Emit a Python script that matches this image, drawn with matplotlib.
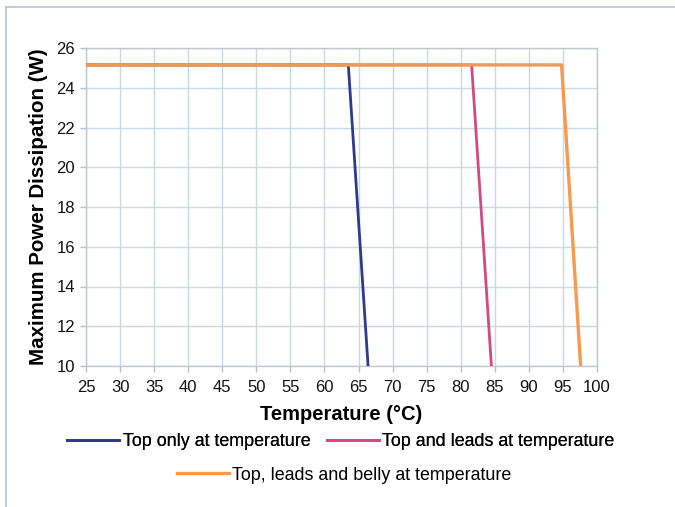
import matplotlib
matplotlib.use("Agg")
import matplotlib.pyplot as plt
from matplotlib.lines import Line2D

plt.rcParams['font.family'] = ['Liberation Sans', 'DejaVu Sans']

# Data (temperature in °C, power in W)
top_only_x = [25, 63.5, 66.4]
top_only_y = [25.15, 25.15, 10]
top_leads_x = [25, 81.6, 84.5]
top_leads_y = [25.15, 25.15, 10]
top_leads_belly_x = [25, 94.8, 97.6]
top_leads_belly_y = [25.15, 25.15, 10]

series_names = ["Top only at temperature",
                "Top and leads at temperature",
                "Top, leads and belly at temperature"]
colors = ["#2E3A8E", "#D24A80", "#F7994E"]

x_ticks = list(range(25, 101, 5))
y_ticks = list(range(10, 27, 2))

fig = plt.figure(figsize=(6.75, 5.07), dpi=100)
ax = fig.add_axes([86/675, 1-366/507, (597-86)/675, (366-48)/507])

grid_c = "#C9D9E1"
ax.set_xlim(25, 100)
ax.set_ylim(10, 26)
ax.set_xticks(x_ticks)
ax.set_yticks(y_ticks)
ax.grid(True, color=grid_c, linewidth=1.0)
ax.set_axisbelow(True)
for s in ax.spines.values():
    s.set_color("#C0C8CC")
    s.set_linewidth(1.0)
ax.tick_params(axis='both', colors="#B8C0C4", length=4, width=1,
               labelsize=12, labelcolor="#111111")
ax.tick_params(axis='x', pad=6)
ax.tick_params(axis='y', pad=4)

l1, = ax.plot(top_only_x, top_only_y, color=colors[0], lw=2.0, zorder=3)
l2, = ax.plot(top_leads_x, top_leads_y, color=colors[1], lw=2.0, zorder=3)
l3, = ax.plot(top_leads_belly_x, top_leads_belly_y, color=colors[2], lw=2.4, zorder=4)

ax.set_xlabel("Temperature (°C)", fontsize=14.5, fontweight='bold', labelpad=7)
ax.set_ylabel("Maximum Power Dissipation (W)", fontsize=14.8, fontweight='bold', labelpad=6)

leg1 = fig.legend([l1, l2], series_names[:2], loc='center',
                  bbox_to_anchor=(341/675, 1-442/507), ncol=2, frameon=False,
                  fontsize=12.9, handlelength=2.9, handletextpad=0.2,
                  columnspacing=0.9, borderpad=0)
leg2 = fig.legend([l3], series_names[2:], loc='center',
                  bbox_to_anchor=(344/675, 1-475/507), ncol=1, frameon=False,
                  fontsize=12.9, handlelength=2.9, handletextpad=0.2, borderpad=0)
fig.add_artist(leg1)

border_c = "#A9C6D8"
fig.add_artist(Line2D([6/675, 1], [1-7/507, 1-7/507], transform=fig.transFigure,
                      color=border_c, lw=1.2))
fig.add_artist(Line2D([6/675, 6/675], [0, 1-7/507], transform=fig.transFigure,
                      color=border_c, lw=1.2))

fig.savefig("out.png", dpi=100)
